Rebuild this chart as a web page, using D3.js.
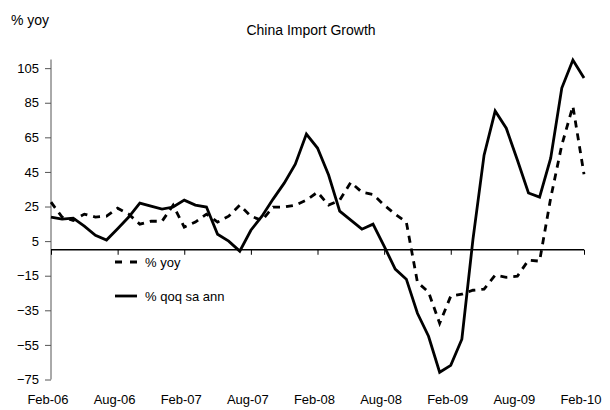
<!DOCTYPE html>
<html>
<head>
<meta charset="utf-8">
<script src="https://cdn.jsdelivr.net/npm/d3@7"></script>
<style>
  body { margin: 0; background: #ffffff; }
  text { font-family: "Liberation Sans", Arial, sans-serif; fill: #000; }
</style>
</head>
<body>
<div id="chart"></div>
<script>
const width = 610;
const height = 410;

// monthly, Feb-06 .. Feb-10
const tickLabels = ["Feb-06", "Aug-06", "Feb-07", "Aug-07", "Feb-08", "Aug-08", "Feb-09", "Aug-09", "Feb-10"];
const yTicks = [105, 85, 65, 45, 25, 5, -15, -35, -55, -75];

const yoy = [27.5, 18.9, 17, 20.6, 18.9, 19.4, 24, 20.6, 14.8, 16.5, 16.5, 25.8,
  13.1, 16, 20.6, 16, 19.4, 25.8, 19.4, 17, 24.7, 24.7, 25.8, 28.7,
  33.3, 25.8, 28.7, 39, 33.3, 32, 25.8, 20.6, 16, -18.8, -24.5, -42.5,
  -26.8, -25.7, -23.4, -22.8, -14.7, -15.9, -15.3, -6, -6.6, 29.9, 60.5, 83,
  43.7];

const qoq = [18.9, 17.7, 18.3, 13.7, 8.4, 5.6, 12.2, 18.9, 27, 25.2, 23.5, 24.7,
  28.7, 25.8, 24.7, 9, 5, -0.8, 11.3, 19.4, 29.3, 38.5, 49.5, 66.9,
  58.8, 43.2, 22.3, 17.1, 11.9, 14.8, 2.1, -11.2, -17, -36.7, -50, -70.8,
  -66.8, -51.7, 6, 54.7, 80.2, 70.3, 51.9, 32.8, 30.4, 53, 93.5, 109.7,
  99.3];

let svg = d3.select("#chart").append("svg")
  .attr("width", width)
  .attr("height", height);

let x = d3.scaleLinear().domain([0, yoy.length - 1]).range([51, 584]);
let y = d3.scaleLinear().domain([-75, 110]).range([379.5, 59.5]);

// titles
svg.append("text")
  .attr("x", 311).attr("y", 35)
  .attr("text-anchor", "middle")
  .style("font-size", "14px")
  .text("China Import Growth");

svg.append("text")
  .attr("x", 11).attr("y", 25)
  .style("font-size", "14px")
  .text("% yoy");

// y axis
let yAxis = d3.axisLeft(y).tickValues(yTicks).tickSize(6).tickPadding(6);
let gy = svg.append("g").attr("transform", "translate(51,0)").call(yAxis);
gy.select(".domain").attr("stroke", "#555").attr("d", `M0,${y(110)}V${y(-75)}`);
gy.selectAll(".tick line").attr("stroke", "#555");
gy.selectAll("text").style("font-size", "13px").attr("fill", "#000");

// category axis drawn on the zero line, labels at bottom
let months = tickLabels.map(function(d, i) { return i * 6; });
let gx = svg.append("g").attr("transform", `translate(0,${y(0)})`)
  .call(d3.axisBottom(x).tickValues(months).tickSize(5).tickFormat(""));
gx.select(".domain").attr("stroke", "#000").attr("stroke-width", 1.5).attr("d", `M${x(0)},0H${x(48)}`);
gx.selectAll(".tick line").attr("stroke", "#000");

svg.append("g").selectAll("text")
  .data(tickLabels)
  .join("text")
  .attr("x", function(d, i) { return x(months[i]) - 3; })
  .attr("y", 404)
  .attr("text-anchor", "middle")
  .style("font-size", "13px")
  .text(function(d) { return d; });

// lines
let line = d3.line()
  .x(function(d, i) { return x(i); })
  .y(function(d) { return y(d); });

svg.append("path")
  .datum(qoq)
  .attr("fill", "none")
  .attr("stroke", "#000")
  .attr("stroke-width", 2.8)
  .attr("stroke-linejoin", "miter")
  .attr("d", line);

svg.append("path")
  .datum(yoy)
  .attr("fill", "none")
  .attr("stroke", "#000")
  .attr("stroke-width", 2.8)
  .attr("stroke-dasharray", "7,6")
  .attr("d", line);

// legend
let legend = svg.append("g");
legend.append("line")
  .attr("x1", 115).attr("x2", 137).attr("y1", 262).attr("y2", 262)
  .attr("stroke", "#000").attr("stroke-width", 2.8).attr("stroke-dasharray", "7,8");
legend.append("text")
  .attr("x", 145).attr("y", 266.5)
  .style("font-size", "13px")
  .text("% yoy");
legend.append("line")
  .attr("x1", 115).attr("x2", 137).attr("y1", 296).attr("y2", 296)
  .attr("stroke", "#000").attr("stroke-width", 2.8);
legend.append("text")
  .attr("x", 145).attr("y", 300.5)
  .style("font-size", "13px")
  .text("% qoq sa ann");
</script>
</body>
</html>
